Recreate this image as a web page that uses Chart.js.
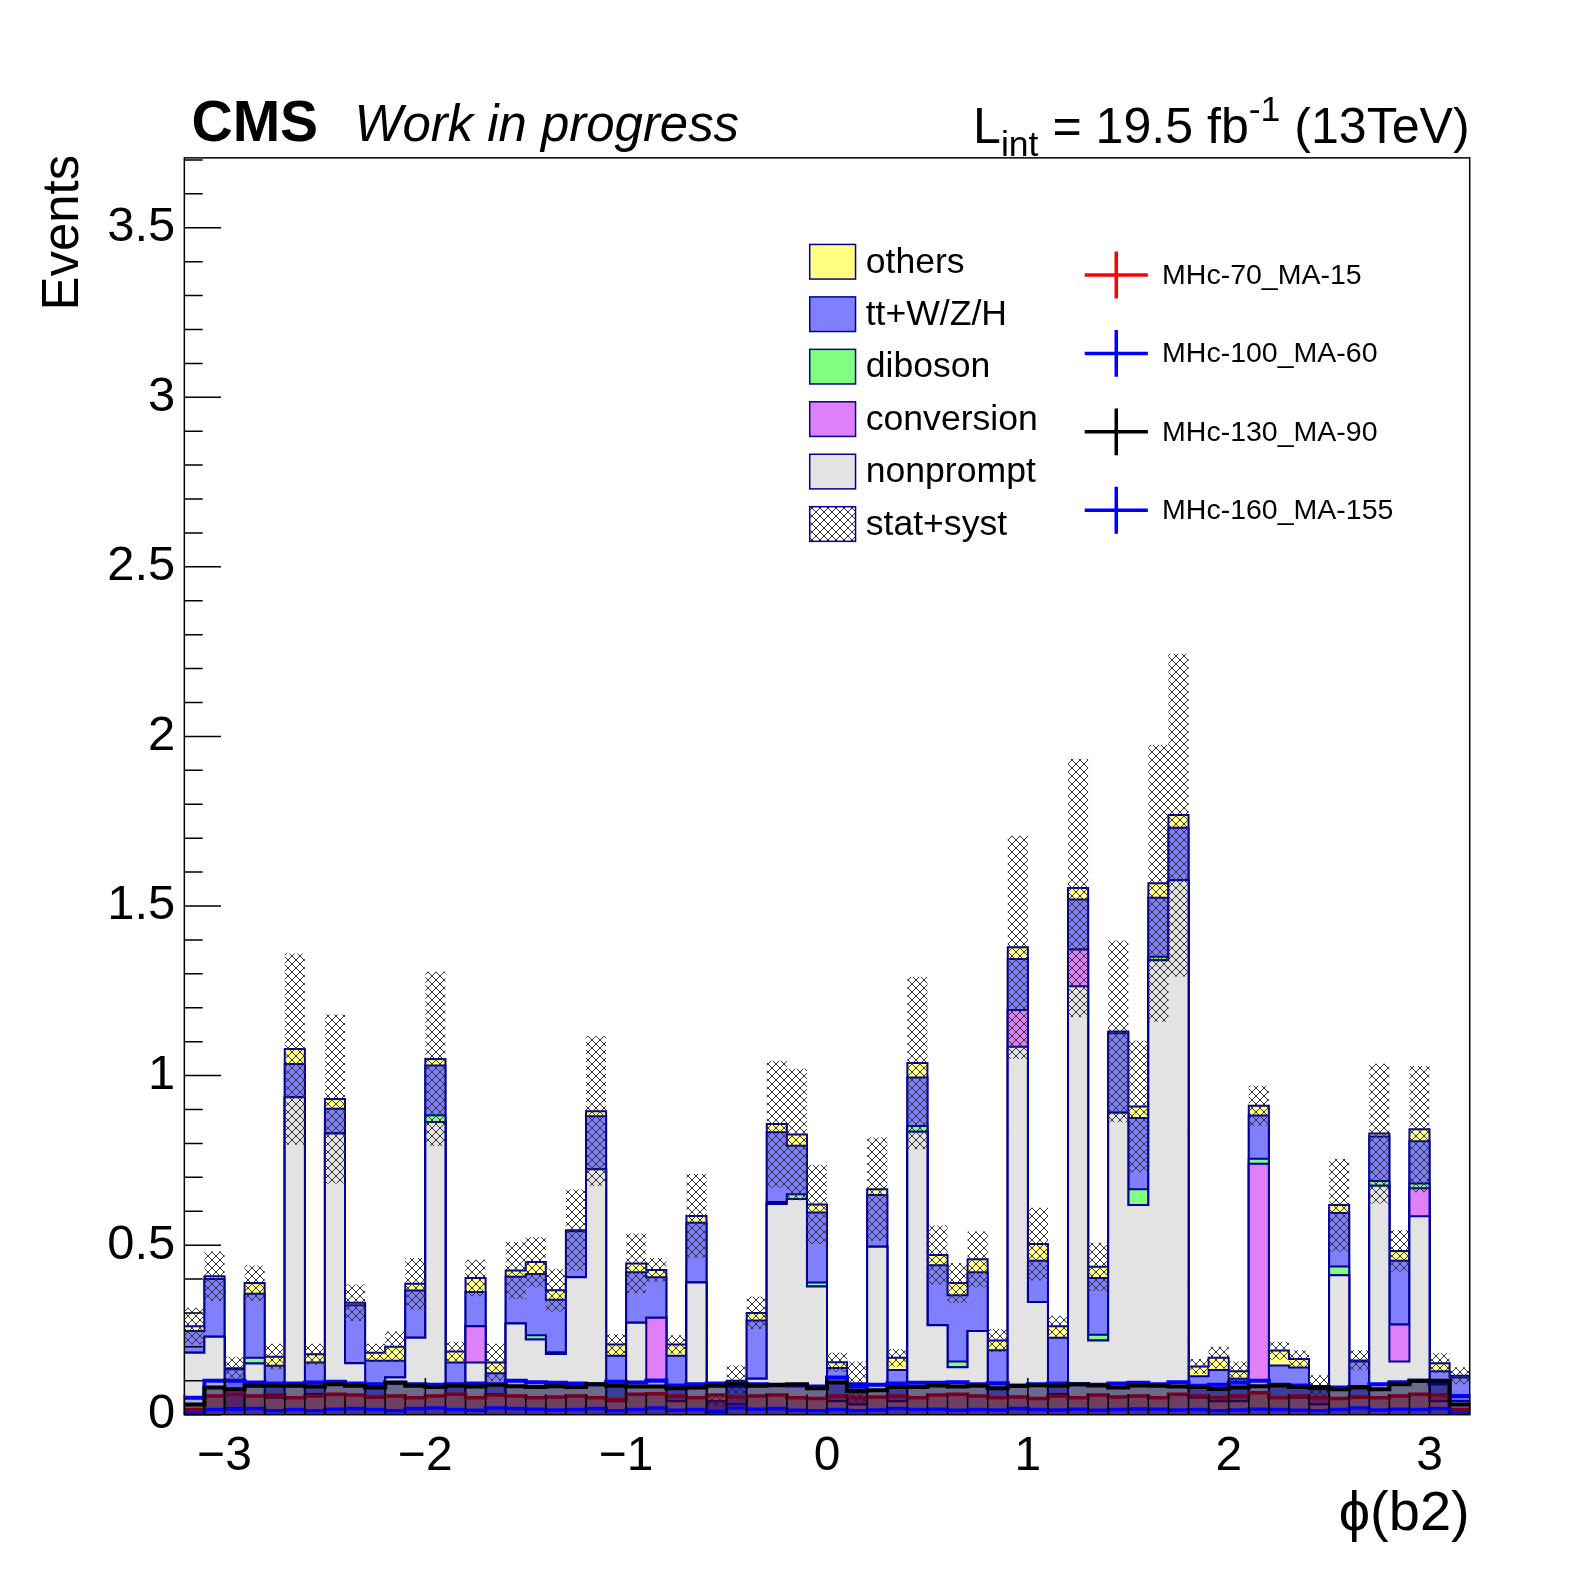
<!DOCTYPE html>
<html>
<head>
<meta charset="utf-8">
<script src="https://cdn.jsdelivr.net/npm/chart.js@4.4.1/dist/chart.umd.min.js"></script>
<style>
  html, body { margin: 0; padding: 0; background: #fff; overflow: hidden; }
  #wrap { width: 1596px; height: 1572px; }
  canvas { display: block; }
</style>
</head>
<body>
<div id="wrap"><canvas id="phiChart" width="1596" height="1572"></canvas></div>
<script>
// phi(b2) stacked background + signal overlays, 64 bins from -3.2 to 3.2
const BIN_LO = -3.2;
const BIN_W = 0.1;

// backgrounds (per-bin contributions)
const nonprompt = [0.183,0.23,0.02,0.151,0.05,0.936,0.06,0.829,0.152,0.05,0.11,0.227,0.863,0.06,0.154,0.06,
                   0.269,0.222,0.179,0.405,0.724,0.04,0.271,0.103,0.04,0.39,0.0,0.03,0.106,0.621,0.636,0.378,
                   0.04,0.03,0.495,0.04,0.834,0.264,0.14,0.247,0.05,1.085,0.332,0.06,1.263,0.219,0.89,0.618,
                   1.34,1.576,0.05,0.04,0.04,0.1,0.05,0.05,0.03,0.411,0.05,0.675,0.157,0.585,0.04,0.04];
const conversion = [0,0,0,0,0,0,0,0,0,0,0,0,0,0,0.107,0,
                    0,0,0,0,0,0,0,0.183,0,0,0,0,0,0,0,0,
                    0,0,0,0,0,0,0,0,0,0.108,0,0,0.109,0,0,0,
                    0,0,0,0,0,0.64,0,0,0,0,0,0,0.109,0.083,0,0];
const diboson = [0,0,0,0.017,0,0,0,0,0,0,0,0,0.02,0,0,0,
                 0,0.012,0.005,0,0,0,0,0,0,0,0,0,0,0.006,0.014,0.012,
                 0,0,0,0,0.017,0,0.017,0,0,0,0,0,0,0.017,0,0.047,
                 0.01,0,0,0,0,0.015,0,0,0,0.026,0,0.014,0,0.014,0,0];
const ttV = [0.064,0.17,0.114,0.189,0.094,0.098,0.094,0.073,0.171,0.109,0.049,0.139,0.147,0.094,0.101,0.062,
             0.138,0.181,0.155,0.136,0.156,0.134,0.149,0.119,0.134,0.176,0.04,0.06,0.172,0.206,0.143,0.206,
             0.098,0.05,0.153,0.092,0.143,0.177,0.195,0.173,0.14,0.151,0.122,0.167,0.147,0.167,0.235,0.21,
             0.174,0.155,0.063,0.092,0.066,0.127,0.095,0.089,0.045,0.158,0.107,0.131,0.188,0.124,0.088,0.07];
const others = [0.014,0.008,0.003,0.031,0.027,0.044,0.024,0.029,0.007,0.024,0.041,0.02,0.019,0.032,0.041,0.032,
                0.018,0.035,0.028,0.003,0.015,0.033,0.026,0.022,0.033,0.02,0,0.01,0.022,0.024,0.033,0.024,
                0.017,0.013,0.017,0.036,0.043,0.03,0.036,0.038,0.029,0.034,0.049,0.034,0.034,0.033,0.005,0.034,
                0.043,0.037,0.029,0.036,0.022,0.029,0.044,0.025,0.009,0.023,0.003,0.009,0.029,0.036,0.024,0.005];
// stat+syst half-width of the band around the total
const statSyst = [0.054,0.073,0.034,0.052,0.038,0.282,0.031,0.249,0.054,0.026,0.045,0.076,0.257,0.029,0.054,0.055,
                  0.084,0.074,0.063,0.12,0.221,0.03,0.088,0.035,0.027,0.124,0.015,0.045,0.048,0.187,0.194,0.117,
                  0.028,0.064,0.152,0.026,0.254,0.087,0.059,0.082,0.034,0.329,0.107,0.031,0.381,0.071,0.268,0.194,
                  0.408,0.476,0.022,0.032,0.029,0.059,0.026,0.026,0.032,0.137,0.03,0.206,0.061,0.186,0.029,0.025];

// signals
const sigMHc70 = [0.015,0.055,0.06,0.055,0.058,0.05,0.055,0.06,0.058,0.052,0.055,0.05,0.055,0.06,0.05,0.058,
                  0.055,0.05,0.052,0.055,0.05,0.045,0.06,0.062,0.055,0.05,0.058,0.052,0.055,0.058,0.05,0.048,
                  0.055,0.05,0.052,0.055,0.05,0.058,0.06,0.055,0.05,0.052,0.048,0.055,0.05,0.058,0.052,0.055,
                  0.05,0.06,0.055,0.05,0.055,0.065,0.05,0.055,0.05,0.048,0.052,0.05,0.055,0.06,0.058,0.015];
const sigMHc100 = [0.005,0.015,0.015,0.018,0.012,0.015,0.012,0.016,0.018,0.015,0.012,0.018,0.02,0.015,0.013,0.02,
                   0.018,0.016,0.014,0.015,0.018,0.012,0.015,0.02,0.013,0.015,0.01,0.02,0.016,0.018,0.013,0.012,
                   0.015,0.012,0.014,0.018,0.015,0.016,0.013,0.015,0.014,0.018,0.015,0.014,0.016,0.013,0.015,0.017,
                   0.016,0.014,0.015,0.012,0.014,0.016,0.015,0.013,0.012,0.015,0.02,0.014,0.016,0.015,0.018,0.005];
const sigMHc130 = [0.03,0.08,0.075,0.085,0.085,0.085,0.083,0.09,0.085,0.08,0.095,0.085,0.082,0.085,0.083,0.088,
                   0.084,0.082,0.084,0.082,0.09,0.085,0.083,0.083,0.078,0.08,0.085,0.092,0.085,0.088,0.09,0.078,
                   0.095,0.07,0.072,0.082,0.082,0.086,0.083,0.085,0.078,0.085,0.087,0.085,0.09,0.086,0.08,0.086,
                   0.085,0.083,0.082,0.076,0.08,0.084,0.086,0.082,0.08,0.075,0.082,0.075,0.09,0.1,0.1,0.03];
const sigMHc160 = [0.05,0.1,0.1,0.095,0.092,0.092,0.095,0.097,0.092,0.09,0.094,0.09,0.088,0.09,0.092,0.09,
                   0.1,0.096,0.094,0.092,0.09,0.097,0.095,0.1,0.086,0.09,0.092,0.085,0.09,0.087,0.086,0.083,
                   0.11,0.085,0.088,0.092,0.094,0.094,0.096,0.09,0.093,0.085,0.09,0.092,0.09,0.088,0.092,0.094,
                   0.09,0.096,0.085,0.088,0.095,0.1,0.088,0.086,0.082,0.08,0.08,0.09,0.096,0.1,0.092,0.055];

const xTicks = [-3, -2, -1, 0, 1, 2, 3];
const yTicks = [0, 0.5, 1, 1.5, 2, 2.5, 3, 3.5];

const bkgLegend = [
  { label: 'others', color: '#ffff80' },
  { label: 'tt+W/Z/H', color: '#8080ff' },
  { label: 'diboson', color: '#80ff80' },
  { label: 'conversion', color: '#e080f8' },
  { label: 'nonprompt', color: '#e3e3e3' },
  { label: 'stat+syst', color: 'hatch' }
];
const sigLegend = [
  { label: 'MHc-70_MA-15', color: '#ff0000' },
  { label: 'MHc-100_MA-60', color: '#0000ff' },
  { label: 'MHc-130_MA-90', color: '#000000' },
  { label: 'MHc-160_MA-155', color: '#0000ff' }
];

const FONT = '"Liberation Sans", Arial, sans-serif';
const NAVY = '#000099';
const S = 1.0185;          // layout numbers below were measured on a slightly smaller grid
const u = v => v * S;
const font = (size, style) => (style ? style + ' ' : '') + u(size).toFixed(1) + 'px ' + FONT;

// ---- helpers ----
function addArrays(...arrs) {
  return arrs[0].map((_, i) => arrs.reduce((s, a) => s + a[i], 0));
}

// histogram as a staircase: two points per bin (low edge, high edge)
function histPoints(values) {
  const pts = [];
  values.forEach((v, i) => {
    const lo = +(BIN_LO + i * BIN_W).toFixed(2);
    const hi = +(BIN_LO + (i + 1) * BIN_W).toFixed(2);
    pts.push({ x: lo, y: v }, { x: hi, y: v });
  });
  return pts;
}

function makeHatch() {
  const c = document.createElement('canvas');
  c.width = 8; c.height = 8;
  const g = c.getContext('2d');
  g.strokeStyle = '#333333';
  g.lineWidth = 1;
  g.beginPath();
  g.moveTo(0, 0); g.lineTo(8, 8);
  g.moveTo(8, 0); g.lineTo(0, 8);
  g.stroke();
  return g.createPattern(c, 'repeat');
}
const hatch = makeHatch();

const cumNp = nonprompt;
const cumConv = addArrays(nonprompt, conversion);
const cumDib = addArrays(nonprompt, conversion, diboson);
const cumTtv = addArrays(nonprompt, conversion, diboson, ttV);
const total = addArrays(nonprompt, conversion, diboson, ttV, others);
const bandUp = total.map((v, i) => v + statSyst[i]);
const bandDn = total.map((v, i) => Math.max(0, v - statSyst[i]));

function stackDs(label, values, color, order) {
  return {
    label, data: histPoints(values), order,
    borderColor: NAVY, borderWidth: 2, backgroundColor: color,
    fill: 'origin', pointRadius: 0, tension: 0
  };
}
function sigDs(label, values, line, fillColor, width, order) {
  return {
    label, data: histPoints(values), order,
    borderColor: line, borderWidth: width, backgroundColor: fillColor,
    fill: 'origin', pointRadius: 0, tension: 0
  };
}

// lower order = drawn later (on top)
const datasets = [
  sigDs('MHc-100_MA-60', sigMHc100, '#0000ff', 'rgba(0,0,255,0.30)', 3.5, 0),
  sigDs('MHc-130_MA-90', sigMHc130, '#000000', 'rgba(0,0,0,0.40)', 4, 1),
  sigDs('MHc-160_MA-155', sigMHc160, '#0000ff', 'rgba(0,0,255,0.22)', 4, 2),
  sigDs('MHc-70_MA-15', sigMHc70, '#ff0000', 'rgba(255,0,0,0.40)', 3.5, 3),
  { label: 'stat+syst', data: histPoints(bandUp), order: 5, borderWidth: 0, borderColor: 'rgba(0,0,0,0)',
    backgroundColor: hatch, fill: '+1', pointRadius: 0, tension: 0 },
  { label: 'band low', data: histPoints(bandDn), order: 6, borderWidth: 0, borderColor: 'rgba(0,0,0,0)',
    fill: false, pointRadius: 0, tension: 0 },
  stackDs('nonprompt', cumNp, '#e3e3e3', 7),
  stackDs('conversion', cumConv, '#e080f8', 8),
  stackDs('diboson', cumDib, '#80ff80', 9),
  stackDs('tt+W/Z/H', cumTtv, '#8080ff', 10),
  stackDs('others', total, '#ffff80', 11)
];

// ---- ROOT-like frame, inner ticks, labels and legend ----
const rootDecor = {
  id: 'rootDecor',
  afterDraw(chart) {
    const { ctx, chartArea: a, scales: { x, y } } = chart;
    ctx.save();
    ctx.strokeStyle = '#000';
    ctx.lineWidth = 1.5;
    ctx.beginPath();
    for (let k = 0; k <= 37; k++) {
      const py = y.getPixelForValue(k / 10);
      if (py < a.top - 0.5) continue;
      const len = k % 5 === 0 ? u(36) : u(18);
      ctx.moveTo(a.left, py); ctx.lineTo(a.left + len, py);
    }
    for (let k = -32; k <= 32; k++) {
      const px = x.getPixelForValue(k / 10);
      const len = k % 10 === 0 ? u(36) : u(20);
      ctx.moveTo(px, a.bottom); ctx.lineTo(px, a.bottom - len);
    }
    ctx.stroke();
    ctx.strokeRect(a.left, a.top, a.right - a.left, a.bottom - a.top);

    ctx.fillStyle = '#000';
    ctx.textBaseline = 'alphabetic';
    ctx.textAlign = 'left';
    ctx.font = font(56, 'bold');
    ctx.fillText('CMS', u(188), u(138));
    ctx.font = font(50, 'italic');
    ctx.fillText('Work in progress', u(348), u(138));

    // L_int = 19.5 fb^-1 (13TeV)
    const big = font(49.2), small = font(35);
    const parts = [
      { t: 'L', f: big, dy: 0 },
      { t: 'int', f: small, dy: u(13) },
      { t: ' = 19.5 fb', f: big, dy: 0 },
      { t: '-1', f: small, dy: u(-21) },
      { t: ' (13TeV)', f: big, dy: 0 }
    ];
    let w = 0;
    parts.forEach(p => { ctx.font = p.f; p.w = ctx.measureText(p.t).width; w += p.w; });
    let x0 = a.right - w;
    parts.forEach(p => { ctx.font = p.f; ctx.fillText(p.t, x0, u(140) + p.dy); x0 += p.w; });

    // axis titles
    ctx.font = font(55);
    ctx.textAlign = 'right';
    ctx.fillText('\u03D5(b2)', a.right, u(1502));
    ctx.save();
    ctx.translate(u(77), u(152));
    ctx.rotate(-Math.PI / 2);
    ctx.font = font(50);
    ctx.fillText('Events', 0, 0);
    ctx.restore();

    // background legend
    ctx.textAlign = 'left';
    ctx.textBaseline = 'middle';
    ctx.font = font(35);
    bkgLegend.forEach((item, i) => {
      const cy = u(257 + i * 51.5);
      ctx.fillStyle = item.color === 'hatch' ? hatch : item.color;
      ctx.fillRect(u(795), cy - u(17), u(45), u(34));
      ctx.strokeStyle = NAVY;
      ctx.lineWidth = 1.5;
      ctx.strokeRect(u(795), cy - u(17), u(45), u(34));
      ctx.fillStyle = '#000';
      ctx.fillText(item.label, u(850), cy + 1);
    });

    // signal legend
    ctx.font = font(28);
    sigLegend.forEach((item, i) => {
      const cy = u(270 + i * 77);
      ctx.strokeStyle = item.color;
      ctx.lineWidth = 3.5;
      ctx.beginPath();
      ctx.moveTo(u(1065), cy); ctx.lineTo(u(1127), cy);
      ctx.moveTo(u(1096), cy - u(23)); ctx.lineTo(u(1096), cy + u(23));
      ctx.stroke();
      ctx.fillStyle = '#000';
      ctx.fillText(item.label, u(1141), cy + 1);
    });
    ctx.restore();
  }
};

new Chart(document.getElementById('phiChart'), {
  type: 'line',
  data: { datasets },
  options: {
    responsive: false,
    devicePixelRatio: 1,
    animation: false,
    events: [],
    layout: { padding: { left: 0, top: u(155), right: 1596 - u(1443), bottom: 0 } },
    plugins: { legend: { display: false }, tooltip: { enabled: false } },
    elements: { line: { borderJoinStyle: 'miter' } },
    scales: {
      x: {
        type: 'linear', min: -3.2, max: 3.2,
        grid: { display: false, drawTicks: false },
        border: { display: false },
        afterBuildTicks: s => { s.ticks = xTicks.map(v => ({ value: v })); },
        afterFit: s => { s.height = 1572 - u(1389); },
        ticks: {
          autoSkip: false, maxRotation: 0, padding: u(13), color: '#000',
          font: { family: FONT, size: u(47) },
          callback: v => (v < 0 ? '\u2212' + Math.abs(v) : String(v))
        }
      },
      y: {
        type: 'linear', min: 0, max: 3.706,
        grid: { display: false, drawTicks: false },
        border: { display: false },
        afterBuildTicks: s => { s.ticks = yTicks.map(v => ({ value: v })); },
        afterFit: s => { s.width = u(181); },
        ticks: {
          padding: u(9), color: '#000',
          font: { family: FONT, size: u(48) },
          callback: v => String(v)
        }
      }
    }
  },
  plugins: [rootDecor]
});
</script>
</body>
</html>
